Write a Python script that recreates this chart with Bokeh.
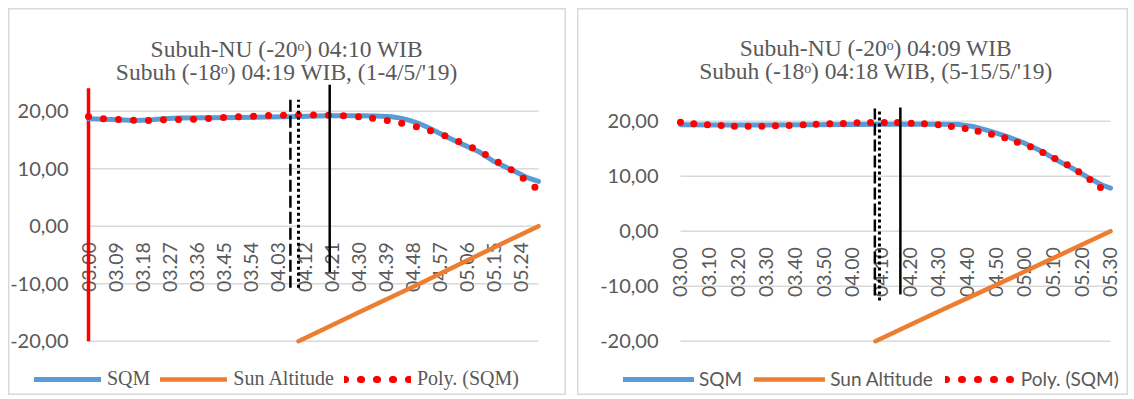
import math
from bokeh.plotting import figure
from bokeh.models import Range1d, Legend, LegendItem, Label
from bokeh.layouts import row
from bokeh.core.properties import value
from bokeh.embed import file_html
from bokeh.resources import INLINE

# ---------------- shared -----------------
y_ticks = [-20, -10, 0, 10, 20]
y_tick_labels = ["-20,00", "-10,00", "0,00", "10,00", "20,00"]
series_names = ["SQM", "Sun Altitude", "Poly. (SQM)"]

# ---------------- chart 1 : 1-4/5/'19 -----------------
c1_title = ["Subuh-NU (-20ᵒ) 04:10 WIB", "Subuh (-18ᵒ) 04:19 WIB, (1-4/5/'19)"]
c1_xticks = ["03.00", "03.09", "03.18", "03.27", "03.36", "03.45", "03.54", "04.03", "04.12",
             "04.21", "04.30", "04.39", "04.48", "04.57", "05.06", "05.15", "05.24"]
c1_sqm_t = ["03.00", "03.05", "03.10", "03.15", "03.20", "03.25", "03.30", "03.40", "03.50",
            "04.00", "04.10", "04.20", "04.30", "04.36", "04.41", "04.44", "04.47", "04.50",
            "04.53", "04.58", "05.04", "05.10", "05.15", "05.21", "05.26", "05.30"]
c1_sqm_v = [18.7, 18.6, 18.5, 18.4, 18.45, 18.7, 18.8, 18.85, 18.9,
            19.0, 19.1, 19.2, 19.2, 19.15, 19.05, 18.8, 18.4, 17.9,
            17.2, 15.9, 14.4, 13.0, 11.3, 9.8, 8.5, 7.8]
c1_sun_t = ["04.10", "04.30", "04.50", "05.10", "05.30"]
c1_sun_v = [-20.0, -15.0, -10.1, -5.0, 0.0]
c1_poly_min = [0, 5, 10, 15, 20, 25, 30, 35, 40, 45, 50, 55, 60, 65, 70, 75, 80, 85, 90,
               94.7, 99.6, 104.4, 109.3, 114.0, 118.8, 123.4, 128.0, 132.3, 136.6, 140.9, 144.9, 148.8]
c1_poly_v = [19.08, 18.67, 18.56, 18.44, 18.38, 18.5, 18.56, 18.61, 18.73, 18.9, 19.02, 19.13,
             19.25, 19.3, 19.36, 19.36, 19.3, 19.2, 19.02,
             18.79, 18.38, 17.92, 17.28, 16.58, 15.72, 14.73, 13.63, 12.47, 11.13, 9.8, 8.35, 6.79]
# marker lines (minutes after 03.00, top, bottom): dashed, dotted, solid
c1_mark_min = [67.3, 70.0, 80.4]
c1_mark_top = [22.0, 22.0, 24.6]
c1_mark_bot = [-10.7, -10.7, -8.0]
c1_start_min = [0]
c1_start_top = [24.0]
c1_start_bot = [-20.0]

# ---------------- chart 2 : 5-15/5/'19 -----------------
c2_title = ["Subuh-NU (-20ᵒ) 04:09 WIB", "Subuh (-18ᵒ) 04:18 WIB, (5-15/5/'19)"]
c2_xticks = ["03.00", "03.10", "03.20", "03.30", "03.40", "03.50", "04.00", "04.10",
             "04.20", "04.30", "04.40", "04.50", "05.00", "05.10", "05.20", "05.30"]
c2_sqm_t = ["03.00", "03.15", "03.30", "03.45", "04.00", "04.15", "04.30", "04.37", "04.42",
            "04.48", "04.54", "05.00", "05.06", "05.11", "05.17", "05.23", "05.27", "05.30"]
c2_sqm_v = [19.35, 19.3, 19.3, 19.35, 19.4, 19.45, 19.45, 19.4, 19.04,
            18.18, 17.2, 16.0, 14.55, 12.98, 11.35, 9.53, 8.4, 7.82]
c2_sun_t = ["04.08", "04.30", "04.50", "05.10", "05.30"]
c2_sun_v = [-20.0, -14.6, -9.8, -4.9, 0.0]
c2_poly_min = [0, 4.65, 9.4, 14.2, 18.8, 23.6, 28.4, 33.1, 37.9, 42.8, 47.3, 52.1, 56.8, 61.6,
               66.3, 71.1, 75.7, 80.5, 85.1, 89.9, 94.5, 99.3, 103.8, 108.5, 113.1, 117.5,
               122.1, 126.4, 130.6, 134.9, 138.9, 142.8, 146.5]
c2_poly_v = [19.82, 19.52, 19.34, 19.22, 19.09, 19.09, 19.09, 19.16, 19.22, 19.34, 19.45, 19.52,
             19.58, 19.71, 19.76, 19.76, 19.76, 19.64, 19.53, 19.35, 19.04, 18.67, 18.18, 17.64,
             16.98, 16.18, 15.35, 14.31, 13.22, 12.07, 10.8, 9.4, 7.95]
c2_mark_min = [67.8, 69.4, 76.7]
c2_mark_top = [22.3, 21.95, 22.5]
c2_mark_bot = [-11.7, -12.6, -11.5]

GRAY_TXT = "#595959"
GRID = "#D9D9D9"
BLUE = "#5B9BD5"
ORANGE = "#ED7D31"
RED = "#FF0000"
H = 387


def minutes(t):
    h, m = t.split(".")
    return (int(h) - 3) * 60 + int(m)


def make_chart(cfg):
    p = figure(width=cfg["w"], height=H, output_backend="svg", toolbar_location=None,
               x_range=Range1d(*cfg["xr"]), y_range=Range1d(*cfg["yr"]),
               x_axis_location=None, y_axis_location=None,
               min_border_left=0, min_border_right=0, min_border_top=0, min_border_bottom=0,
               background_fill_color="white", border_fill_color="white",
               outline_line_color=GRID, outline_line_width=2)
    p.xgrid.visible = False
    p.ygrid.visible = False

    # horizontal gridlines spanning the category range
    first, last = 0, minutes("05.30")
    p.segment(x0=[first] * len(y_ticks), x1=[last] * len(y_ticks), y0=y_ticks, y1=y_ticks,
              line_color=GRID, line_width=1.6)

    # value-axis labels
    p.text(x=[first] * len(y_ticks), y=y_ticks, text=y_tick_labels, x_offset=cfg["ylab_off"],
           text_align="right", text_baseline="middle",
           text_font=value("Lato"), text_font_size="20px", text_color=GRAY_TXT)

    # category labels under the zero line
    xt = [minutes(t) for t in cfg["xticks"]]
    p.text(x=xt, y=[0] * len(xt), text=cfg["xticks"], angle=math.pi / 2,
           text_align="right", text_baseline="middle", y_offset=16,
           text_font=value("Lato"), text_font_size="19.5px", text_color=GRAY_TXT)

    if cfg.get("start") is not None:
        smin, stop, sbot = cfg["start"]
        p.segment(x0=smin, y0=sbot, x1=smin, y1=stop, line_color=RED, line_width=3.5)

    r_sqm = p.line([minutes(t) for t in cfg["sqm_t"]], cfg["sqm_v"], line_color=BLUE,
                   line_width=5, line_cap="round", line_join="round")
    r_sun = p.line([minutes(t) for t in cfg["sun_t"]], cfg["sun_v"], line_color=ORANGE,
                   line_width=4.5, line_cap="round", line_join="round")
    p.scatter(cfg["poly_min"], cfg["poly_v"], size=7, fill_color=RED, line_color=None)
    # dotted-line sample of the trendline, used only for the legend swatch
    r_poly_leg = p.line(cfg["poly_min"], cfg["poly_v"], line_color=RED, line_width=7,
                        line_dash="1 15", line_cap="round")
    r_poly_leg.visible = False

    mm, mt, mb = cfg["marks"]
    p.segment(x0=[mm[0]], y0=[mb[0]], x1=[mm[0]], y1=[mt[0]], line_color="black",
              line_width=2.5, line_dash="12 4")
    p.segment(x0=[mm[1]], y0=[mb[1]], x1=[mm[1]], y1=[mt[1]], line_color="black",
              line_width=3, line_dash="3 3")
    p.segment(x0=[mm[2]], y0=[mb[2]], x1=[mm[2]], y1=[mt[2]], line_color="black",
              line_width=2.5)

    for txt, (tx, ty) in zip(cfg["title"], cfg["title_pos"]):
        p.add_layout(Label(x=tx, y=ty, x_units="screen", y_units="screen", text=txt,
                           text_align="center", text_baseline="alphabetic",
                           text_font="Liberation Serif", text_font_size="23.5px",
                           text_color=GRAY_TXT))

    leg = Legend(items=[LegendItem(label=series_names[0], renderers=[r_sqm]),
                        LegendItem(label=series_names[1], renderers=[r_sun]),
                        LegendItem(label=series_names[2], renderers=[r_poly_leg])],
                 location=cfg["leg_loc"], orientation="horizontal",
                 glyph_width=cfg["gw"], glyph_height=20, label_standoff=cfg["ls"],
                 spacing=cfg["sp"], padding=0, margin=0,
                 border_line_color=None, background_fill_alpha=0,
                 inactive_fill_alpha=0, click_policy="none",
                 label_text_font=cfg["leg_font"], label_text_font_size=cfg["leg_size"],
                 label_text_color=GRAY_TXT)
    p.add_layout(leg)
    return p


p1 = make_chart(dict(w=558, xr=(-26.667, 159.333), yr=(-29.44, 37.86), ylab_off=-20,
                     xticks=c1_xticks, sqm_t=c1_sqm_t, sqm_v=c1_sqm_v, sun_t=c1_sun_t,
                     sun_v=c1_sun_v, poly_min=c1_poly_min, poly_v=c1_poly_v,
                     marks=(c1_mark_min, c1_mark_top, c1_mark_bot),
                     start=(c1_start_min, c1_start_top, c1_start_bot),
                     title=c1_title, title_pos=[(278.3, 346.7), (278.3, 324)],
                     leg_loc=(26, 5), gw=67, ls=6, sp=10,
                     leg_font="Liberation Serif", leg_size="20px"))
p2 = make_chart(dict(w=551, xr=(-35.93, 156.28), yr=(-29.87, 40.49), ylab_off=-22,
                     xticks=c2_xticks, sqm_t=c2_sqm_t, sqm_v=c2_sqm_v, sun_t=c2_sun_t,
                     sun_v=c2_sun_v, poly_min=c2_poly_min, poly_v=c2_poly_v,
                     marks=(c2_mark_min, c2_mark_top, c2_mark_bot), start=None,
                     title=c2_title, title_pos=[(298.5, 347.7), (298.5, 325)],
                     leg_loc=(46, 5), gw=71, ls=5, sp=12,
                     leg_font="Lato", leg_size="19px"))

layout = row(p1, p2, spacing=11, margin=(8, 0, 0, 8))
open("out.html", "w").write(file_html(layout, INLINE))
